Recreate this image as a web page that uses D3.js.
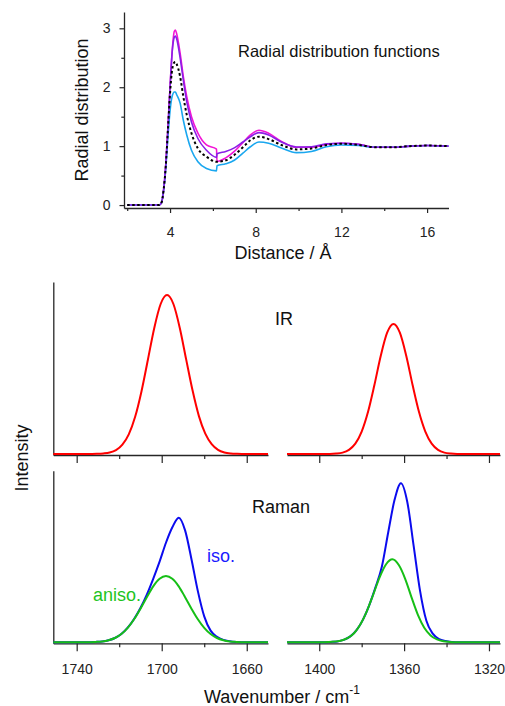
<!DOCTYPE html>
<html>
<head>
<meta charset="utf-8">
<script src="https://cdn.jsdelivr.net/npm/d3@7"></script>
<style>
body{margin:0;background:#fff;}
svg{display:block;font-family:"Liberation Sans",Arial,sans-serif;}
</style>
</head>
<body>
<div id="chart"></div>
<script>
// radial distribution functions
const rdfR = [2, 3.5, 3.6, 3.7, 3.8, 3.9, 4.0, 4.1, 4.2, 4.25, 4.3, 4.47, 4.62, 4.78, 5.0, 5.3, 5.7, 6.17, 6.19, 6.6, 7.0, 7.4, 7.75, 8.15, 8.6, 9.2, 9.9, 10.6, 11.3, 12.0, 12.8, 13.6, 14.4, 15.2, 16.0, 17];
const rdfMagenta = [0, 0, 0.04, 0.26, 0.68, 1.3, 2.0, 2.62, 2.95, 2.97, 2.92, 2.58, 2.18, 1.84, 1.50, 1.22, 1.02, 0.95, 0.74, 0.80, 0.91, 1.06, 1.19, 1.27, 1.22, 1.08, 0.98, 0.98, 1.03, 1.05, 1.03, 0.98, 0.98, 1.0, 1.01, 1.0];
const rdfPurple = [0, 0, 0.04, 0.26, 0.68, 1.3, 2.0, 2.6, 2.85, 2.87, 2.83, 2.50, 2.12, 1.75, 1.41, 1.13, 0.93, 0.81, 0.87, 0.91, 0.97, 1.07, 1.16, 1.23, 1.19, 1.07, 0.985, 0.99, 1.04, 1.05, 1.03, 0.98, 0.98, 1.0, 1.01, 1.0];
const rdfBlack = [0, 0, 0.04, 0.26, 0.66, 1.28, 1.9, 2.3, 2.42, 2.43, 2.40, 2.18, 1.84, 1.53, 1.22, 0.96, 0.82, 0.735, 0.735, 0.76, 0.85, 0.98, 1.10, 1.16, 1.12, 1.02, 0.945, 0.96, 1.02, 1.04, 1.02, 0.98, 0.98, 1.0, 1.01, 1.0];
const rdfCyan = [0, 0, 0.04, 0.25, 0.62, 1.15, 1.6, 1.85, 1.92, 1.92, 1.88, 1.73, 1.44, 1.19, 0.93, 0.735, 0.62, 0.58, 0.667, 0.70, 0.76, 0.88, 0.99, 1.07, 1.05, 0.97, 0.89, 0.91, 0.99, 1.02, 1.01, 0.98, 0.98, 1.0, 1.01, 1.0];

// IR spectra
const irLeftWn = [1751, 1735, 1730.5, 1727.5, 1724.5, 1721.5, 1718.5, 1715.5, 1712.5, 1709.5, 1706.5, 1703.5, 1700.5, 1697.5, 1694.5, 1691.5, 1688.5, 1685.5, 1682.5, 1679.5, 1676.5, 1673.5, 1670.5, 1667.5, 1664.5, 1660, 1650];
const irLeftI = [0, 0, 0.001, 0.003, 0.008, 0.022, 0.054, 0.114, 0.216, 0.365, 0.548, 0.733, 0.872, 0.924, 0.872, 0.733, 0.55, 0.37, 0.22, 0.118, 0.057, 0.024, 0.009, 0.003, 0.001, 0, 0];
const irRightWn = [1415.2, 1398, 1392, 1389, 1386, 1383, 1380, 1377, 1374, 1371, 1368, 1365, 1362, 1359, 1356, 1353, 1350, 1347, 1344, 1341, 1338, 1332, 1314.8];
const irRightI = [0, 0, 0.003, 0.008, 0.024, 0.060, 0.130, 0.245, 0.401, 0.571, 0.705, 0.756, 0.705, 0.571, 0.401, 0.245, 0.130, 0.060, 0.024, 0.008, 0.003, 0, 0];

// Raman spectra
const ramLeftWn = [1751, 1736, 1731, 1728, 1725, 1722, 1719, 1716, 1713, 1710, 1707, 1704, 1701, 1698, 1695, 1692, 1689, 1686, 1683, 1680, 1677, 1674, 1671, 1668, 1665, 1660, 1650];
const ramLeftIso = [0, 0, 0.002, 0.005, 0.012, 0.025, 0.048, 0.085, 0.136, 0.20, 0.278, 0.37, 0.47, 0.58, 0.67, 0.726, 0.652, 0.484, 0.298, 0.151, 0.068, 0.032, 0.014, 0.006, 0.002, 0, 0];
const ramLeftAniso = [0, 0, 0.002, 0.005, 0.012, 0.025, 0.048, 0.084, 0.134, 0.196, 0.263, 0.326, 0.370, 0.386, 0.370, 0.326, 0.263, 0.196, 0.134, 0.084, 0.048, 0.025, 0.012, 0.005, 0.002, 0, 0];
const ramRightIsoWn = [1415.2, 1400, 1394.5, 1391.5, 1388.5, 1385.5, 1382.5, 1379.5, 1376.5, 1373.5, 1370.5, 1367.5, 1364.5, 1361.5, 1358.5, 1355.5, 1352.5, 1349.5, 1346.5, 1343.5, 1340.5, 1337.5, 1334, 1314.8];
const ramRightIso = [0, 0, 0.002, 0.005, 0.014, 0.033, 0.069, 0.129, 0.214, 0.32, 0.44, 0.64, 0.83, 0.927, 0.818, 0.562, 0.301, 0.125, 0.05, 0.018, 0.007, 0.002, 0, 0];
const ramRightAnisoWn = [1415.2, 1400, 1395.5, 1392.5, 1389.5, 1386.5, 1383.5, 1380.5, 1377.5, 1374.5, 1371.5, 1368.5, 1365.5, 1362.5, 1359.5, 1356.5, 1353.5, 1350.5, 1347.5, 1344.5, 1341.5, 1338.5, 1335.5, 1330, 1314.8];
const ramRightAniso = [0, 0, 0.001, 0.004, 0.010, 0.025, 0.054, 0.106, 0.183, 0.280, 0.380, 0.455, 0.484, 0.45, 0.37, 0.262, 0.16, 0.085, 0.04, 0.017, 0.006, 0.002, 0, 0, 0];

const rdfTicks = [4, 8, 12, 16], rdfMinor = [2, 6, 10, 14];
const rdfYTicks = [0, 1, 2, 3], rdfYMinor = [0.5, 1.5, 2.5];
const leftTicks = [1740, 1700, 1660], leftMinor = [1720, 1680];
const rightTicks = [1400, 1360, 1320], rightMinor = [1380, 1340];

const W = 505, H = 706;
const axisColor = '#262626';

let svg = d3.select('#chart').append('svg')
    .attr('width', W).attr('height', H);

function zip(xs, ys){ return xs.map((x, i) => [x, ys[i]]); }

function styleAxis(g, fs){
    g.select('.domain').attr('stroke', axisColor).attr('stroke-width', 1.3);
    g.selectAll('.tick line').attr('stroke', axisColor).attr('stroke-width', 1.2);
    g.selectAll('.tick text').attr('fill', '#222').style('font-size', fs + 'px')
        .style('font-family', '"Liberation Sans",Arial,sans-serif');
}

function drawCurve(x, y, data, color, width, dash){
    let line = d3.line().x(d => x(d[0])).y(d => y(d[1])).curve(d3.curveMonotoneX);
    svg.append('path')
        .datum(data)
        .attr('d', line)
        .attr('fill', 'none')
        .attr('stroke', color)
        .attr('stroke-width', width)
        .attr('stroke-dasharray', dash || null)
        .attr('stroke-linejoin', 'round');
}

// ---- top panel: RDF ----
let xR = d3.scaleLinear().domain([1.85, 17]).range([124, 448.5]);
let yR = d3.scaleLinear().domain([-0.05, 3.277]).range([208, 12]);

let gx = svg.append('g').attr('transform', 'translate(0,208)')
    .call(d3.axisBottom(xR).tickValues(rdfTicks).tickSize(5).tickSizeOuter(0).tickPadding(14).tickFormat(d3.format('d')));
styleAxis(gx, 14);
let gxm = svg.append('g').attr('transform', 'translate(0,208)')
    .call(d3.axisBottom(xR).tickValues(rdfMinor).tickSize(3).tickSizeOuter(0).tickFormat(''));
styleAxis(gxm, 14);
gxm.select('.domain').remove();

let gy = svg.append('g').attr('transform', 'translate(124,0)')
    .call(d3.axisLeft(yR).tickValues(rdfYTicks).tickSize(4.5).tickSizeOuter(0).tickPadding(9).tickFormat(d3.format('d')));
styleAxis(gy, 14);
let gym = svg.append('g').attr('transform', 'translate(124,0)')
    .call(d3.axisLeft(yR).tickValues(rdfYMinor).tickSize(2.7).tickSizeOuter(0).tickFormat(''));
styleAxis(gym, 14);
gym.select('.domain').remove();

drawCurve(xR, yR, zip(rdfR, rdfMagenta), '#f214d6', 1.6);
drawCurve(xR, yR, zip(rdfR, rdfCyan), '#1aa7ef', 1.6);
drawCurve(xR, yR, zip(rdfR, rdfPurple), '#8a1fe6', 1.6);
drawCurve(xR, yR, zip(rdfR, rdfBlack), '#000', 2, '2.5,2.5');

svg.append('text').attr('x', 238).attr('y', 57)
    .style('font-size', '16.5px').attr('fill', '#111')
    .text('Radial distribution functions');
svg.append('text').attr('x', 283).attr('y', 259).attr('text-anchor', 'middle')
    .style('font-size', '18px').attr('fill', '#111')
    .text('Distance / Å');
svg.append('text').attr('transform', 'translate(87.5,110) rotate(-90)').attr('text-anchor', 'middle')
    .style('font-size', '18px').attr('fill', '#111')
    .text('Radial distribution');

// ---- bottom panels: IR and Raman ----
let xL = d3.scaleLinear().domain([1751, 1650]).range([53.3, 268]);
let xRt = d3.scaleLinear().domain([1415.2, 1314.8]).range([287, 500]);
let yIR = d3.scaleLinear().domain([-0.006, 1]).range([455, 282]);
let yRa = d3.scaleLinear().domain([-0.006, 1]).range([643.3, 470.7]);

function bottomAxis(x, major, minor, yPos, labels){
    let g = svg.append('g').attr('transform', 'translate(0,' + yPos + ')')
        .call(d3.axisBottom(x).tickValues(major).tickSize(8).tickSizeOuter(0).tickPadding(13)
            .tickFormat(labels ? d3.format('d') : ''));
    styleAxis(g, 14);
    let gm = svg.append('g').attr('transform', 'translate(0,' + yPos + ')')
        .call(d3.axisBottom(x).tickValues(minor).tickSize(4).tickSizeOuter(0).tickFormat(''));
    styleAxis(gm, 14);
    gm.select('.domain').remove();
}

bottomAxis(xL, leftTicks, leftMinor, 455, false);
bottomAxis(xRt, rightTicks, rightMinor, 455, false);
bottomAxis(xL, leftTicks, leftMinor, 643.3, true);
bottomAxis(xRt, rightTicks, rightMinor, 643.3, true);

[yIR, yRa].forEach(function(y){
    let g = svg.append('g').attr('transform', 'translate(53.3,0)')
        .call(d3.axisLeft(y).tickValues([]).tickSizeOuter(0));
    styleAxis(g, 14);
});

drawCurve(xL, yIR, zip(irLeftWn, irLeftI), '#ff0000', 2);
drawCurve(xRt, yIR, zip(irRightWn, irRightI), '#ff0000', 2);

drawCurve(xL, yRa, zip(ramLeftWn, ramLeftIso), '#0b0bee', 2);
drawCurve(xRt, yRa, zip(ramRightIsoWn, ramRightIso), '#0b0bee', 2);
drawCurve(xL, yRa, zip(ramLeftWn, ramLeftAniso), '#16bf16', 2);
drawCurve(xRt, yRa, zip(ramRightAnisoWn, ramRightAniso), '#16bf16', 2);

svg.append('text').attr('x', 275).attr('y', 325)
    .style('font-size', '18px').attr('fill', '#111').text('IR');
svg.append('text').attr('x', 252).attr('y', 513)
    .style('font-size', '18px').attr('fill', '#111').text('Raman');
svg.append('text').attr('x', 207).attr('y', 562)
    .style('font-size', '18px').attr('fill', '#1a1aff').text('iso.');
svg.append('text').attr('x', 93).attr('y', 601)
    .style('font-size', '18px').attr('fill', '#1ec41e').text('aniso.');

svg.append('text').attr('transform', 'translate(28,458) rotate(-90)').attr('text-anchor', 'middle')
    .style('font-size', '18px').attr('fill', '#111')
    .text('Intensity');

let wt = svg.append('text').attr('x', 282).attr('y', 703).attr('text-anchor', 'middle')
    .style('font-size', '18px').attr('fill', '#111');
wt.append('tspan').text('Wavenumber / cm');
wt.append('tspan').attr('dy', -9).style('font-size', '12px').text('-1');
</script>
</body>
</html>
